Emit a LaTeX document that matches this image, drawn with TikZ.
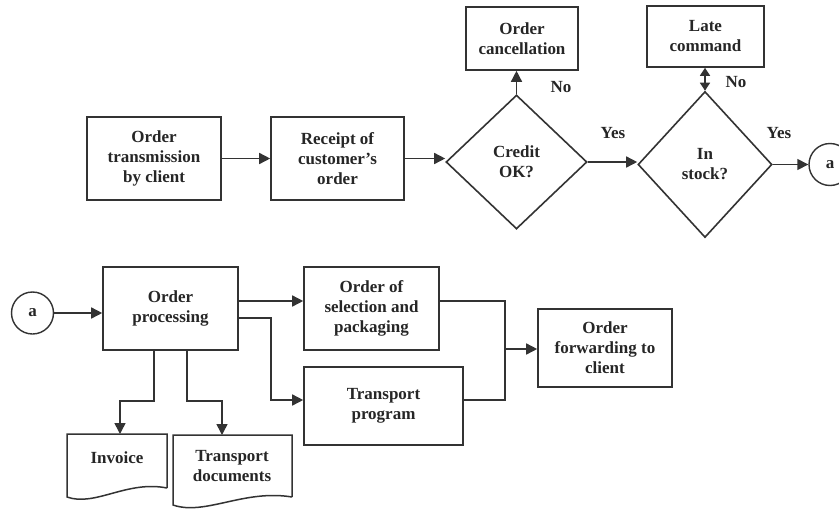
\documentclass[tikz,border=0pt]{standalone}
\usepackage{fontspec}
\setmainfont{Liberation Serif}
\usetikzlibrary{arrows.meta,shapes.geometric,calc}
\begin{document}
\begin{tikzpicture}[x=1pt,y=-1pt,
  every node/.style={font=\fontsize{17}{20}\selectfont\bfseries, text=black!85, align=center, inner sep=0pt},
  box/.style={draw=black!80, line width=1.6pt, rectangle},
  dia/.style={draw=black!80, line width=1.6pt, diamond, aspect=1},
  conn/.style={circle, draw=black!80, line width=1.4pt, minimum size=42pt},
  line/.style={draw=black!80, line width=1.5pt},
  arr/.style={line, -{Triangle[length=11pt,width=11pt]}},
  darr/.style={line, {Triangle[length=8pt,width=10pt]}-{Triangle[length=8pt,width=10pt]}},
  lbl/.style={font=\fontsize{17}{20}\selectfont\bfseries}
]
\useasboundingbox (0,0) rectangle (839,512);
\clip (0,0) rectangle (839,512);
\fill[white] (0,0) rectangle (839,512);

% top row
\node[box, minimum width=134pt, minimum height=83pt] (b1) at (154,158.5) {Order\\transmission\\by client};
\node[box, minimum width=133pt, minimum height=83pt] (b2) at (337.5,158.5) {Receipt of\\customer's\\order};
\node[dia, minimum width=141pt, minimum height=134pt] (d1) at (516.5,162) {Credit\\OK?};
\node[dia, minimum width=134pt, minimum height=146pt] (d2) at (705,164.5) {In\\stock?};
\node[box, minimum width=112pt, minimum height=63pt] (cancel) at (522,38.5) {Order\\cancellation};
\node[box, minimum width=117pt, minimum height=61pt] (late) at (705.5,36.5) {Late\\command};
\node[conn] (a1) at (830,164.5) {a};

\node[lbl] (no1) at (561,87) {No};
\node[lbl] (yes1) at (613,133) {Yes};
\node[lbl] (no2) at (736,82) {No};
\node[lbl] (yes2) at (779,133) {Yes};

\draw[arr] (b1.east) -- (b1.east -| b2.west);
\draw[arr] (b2.east) -- (b2.east -| d1.west);
\draw[arr] (d1.east) -- (d1.east -| d2.west);
\draw[arr] (d2.east) -- (d2.east -| a1.west);
\draw[arr] (d1.north) -- (d1.north |- cancel.south);
\draw[darr] (d2.north) -- (d2.north |- late.south);

% bottom row
\node[conn] (a2) at (32.5,313) {a};
\node[box, minimum width=135pt, minimum height=83pt] (op) at (170.5,308.5) {Order\\processing};
\node[box, minimum width=135pt, minimum height=83pt] (sel) at (371.5,308.5) {Order of\\selection and\\packaging};
\node[box, minimum width=159pt, minimum height=78pt] (tp) at (383.5,406) {Transport\\program};
\node[box, minimum width=134pt, minimum height=78pt] (fwd) at (605,348) {Order\\forwarding to\\client};

\coordinate (j1) at (271,318);
\coordinate (m) at (505,349);

\draw[arr] (a2.east) -- (a2.east -| op.west);
\draw[arr] ([yshift=7.5pt]op.east) -- ([yshift=7.5pt]op.east -| sel.west);
\draw[arr] ([yshift=-9.5pt]op.east) -- (j1) |- ([yshift=6pt]tp.west);
\draw[line] ([yshift=7.5pt]sel.east) -| (m);
\draw[line] ([yshift=6pt]tp.east) -| (m);
\draw[arr] (m) -- (m -| fwd.west);

% documents
\node (inv) at (117,458) {Invoice};
\node (td) at (232,466) {Transport\\documents};
\draw[line] ($(inv.center)+(50,30)$) -- ($(inv.center)+(50,-24)$) -- ($(inv.center)+(-50,-24)$) -- ($(inv.center)+(-50,39)$)
  .. controls +(28,10) and +(-40,-8) .. ($(inv.center)+(50,30)$);
\draw[line] ($(td.center)+(60,31)$) -- ($(td.center)+(60,-31)$) -- ($(td.center)+(-59,-31)$) -- ($(td.center)+(-59,39)$)
  .. controls +(32,11) and +(-48,-8) .. ($(td.center)+(60,31)$);

\draw[arr] ([xshift=-16.5pt]op.south) |- ($(inv.center)+(3,-57)$) -- ($(inv.center)+(3,-24)$);
\draw[arr] ([xshift=16.5pt]op.south) |- ($(td.center)+(-10,-65)$) -- ($(td.center)+(-10,-31)$);
\end{tikzpicture}
\end{document}
